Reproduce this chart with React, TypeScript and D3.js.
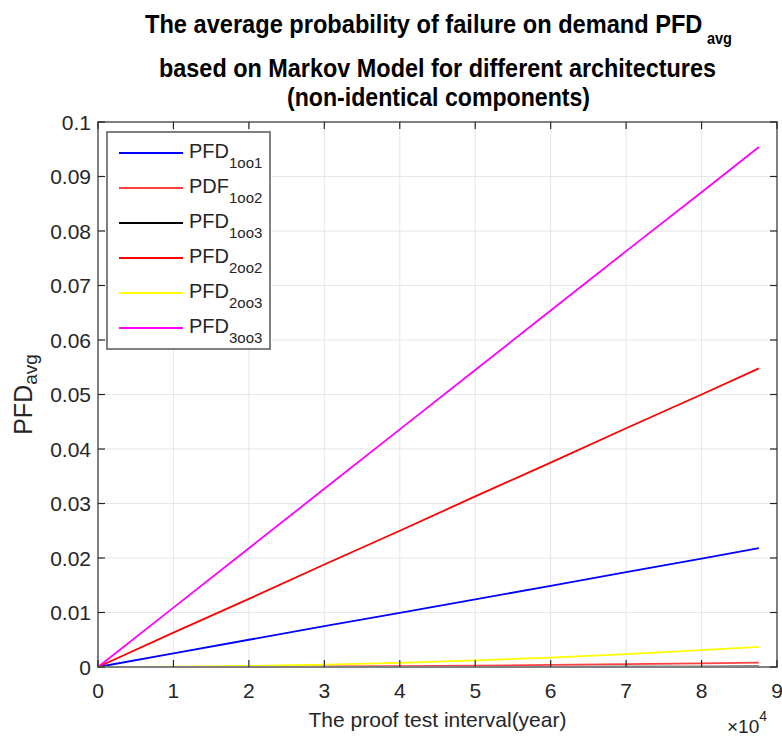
import React from "react";
import * as d3 from "d3";

// proof test interval in hours (axis shows x10^4)
const xValues = [0, 10000, 20000, 30000, 40000, 50000, 60000, 70000, 80000, 87600];

const pfd1oo1 = [0, 0.0025, 0.005, 0.0075, 0.00995, 0.0124, 0.0149, 0.0174, 0.0199, 0.0218];
const pdf1oo2 = [0, 0.00001, 0.00004, 0.00009, 0.00017, 0.00026, 0.00038, 0.00051, 0.00067, 0.0008];
const pfd1oo3 = [0, 0, 0, 0.00001, 0.00001, 0.00002, 0.00004, 0.00006, 0.00008, 0.0001];
const pfd2oo2 = [0, 0.0063, 0.0125, 0.0188, 0.025, 0.0313, 0.0375, 0.0438, 0.05, 0.0548];
const pfd2oo3 = [0, 0.00005, 0.0002, 0.00043, 0.00077, 0.0012, 0.00173, 0.00236, 0.0031, 0.0037];
const pfd3oo3 = [0, 0.0109, 0.0218, 0.0327, 0.0436, 0.0545, 0.0654, 0.0763, 0.0871, 0.0954];

const seriesNames = [
  { main: "PFD", sub: "1oo1" },
  { main: "PDF", sub: "1oo2" },
  { main: "PFD", sub: "1oo3" },
  { main: "PFD", sub: "2oo2" },
  { main: "PFD", sub: "2oo3" },
  { main: "PFD", sub: "3oo3" },
];
const seriesValues = [pfd1oo1, pdf1oo2, pfd1oo3, pfd2oo2, pfd2oo3, pfd3oo3];
const seriesColors = ["#0000ff", "#ff4040", "#000000", "#ff0000", "#ffff00", "#ff00ff"];

const xTicks = [0, 1, 2, 3, 4, 5, 6, 7, 8, 9];
const yTicks = [0, 0.01, 0.02, 0.03, 0.04, 0.05, 0.06, 0.07, 0.08, 0.09, 0.1];

export default function App() {
  const width = 782, height = 738;
  const left = 98, right = 777, top = 122, bottom = 667;

  const x = d3.scaleLinear().domain([0, 9]).range([left, right]);
  const y = d3.scaleLinear().domain([0, 0.1]).range([bottom, top]);

  const line = d3.line<number>()
    .x((_, i) => x(xValues[i] / 10000))
    .y(d => y(d));

  const axisColor = "#808080";
  const textColor = "#262626";
  const font = "Liberation Sans, Arial, sans-serif";
  const titleFont = "'Liberation Sans Narrow', 'Arial Narrow', 'Liberation Sans', sans-serif";

  return (
    <svg width={width} height={height} style={{ position: "absolute", left: 0, top: 0, background: "#fff" }}>
      <rect x={0} y={0} width={width} height={height} fill="#fff" />

      {/* grid */}
      {xTicks.slice(1, -1).map(t => (
        <line key={"gx" + t} x1={x(t)} x2={x(t)} y1={top} y2={bottom} stroke="#e6e6e6" strokeWidth={1} />
      ))}
      {yTicks.slice(1, -1).map(t => (
        <line key={"gy" + t} x1={left} x2={right} y1={y(t)} y2={y(t)} stroke="#e6e6e6" strokeWidth={1} />
      ))}

      {/* series */}
      {seriesValues.map((vals, i) => (
        <path key={"s" + i} d={line(vals) || ""} fill="none" stroke={seriesColors[i]} strokeWidth={1.8} />
      ))}

      {/* axes box */}
      <rect x={left} y={top} width={right - left} height={bottom - top} fill="none" stroke={axisColor} strokeWidth={2} />

      {/* ticks */}
      {xTicks.map(t => (
        <g key={"tx" + t}>
          <line x1={x(t)} x2={x(t)} y1={bottom} y2={bottom - 7} stroke={textColor} strokeWidth={1.2} />
          <line x1={x(t)} x2={x(t)} y1={top} y2={top + 7} stroke={textColor} strokeWidth={1.2} />
          <text x={x(t)} y={698} textAnchor="middle" fontFamily={font} fontSize={21} fill={textColor}>{t}</text>
        </g>
      ))}
      {yTicks.map(t => (
        <g key={"ty" + t}>
          <line x1={left} x2={left + 7} y1={y(t)} y2={y(t)} stroke={textColor} strokeWidth={1.2} />
          <line x1={right} x2={right - 7} y1={y(t)} y2={y(t)} stroke={textColor} strokeWidth={1.2} />
          <text x={91} y={y(t) + 7.5} textAnchor="end" fontFamily={font} fontSize={21} fill={textColor}>{d3.format("~g")(t)}</text>
        </g>
      ))}

      {/* x10^4 */}
      <text x={727} y={733} fontFamily={font} fontSize={19} fill={textColor}>
        ×10<tspan dy={-12} fontSize={14}>4</tspan>
      </text>

      {/* axis labels */}
      <text x={(left + right) / 2} y={727} textAnchor="middle" fontFamily={font} fontSize={21} fill={textColor}>
        The proof test interval(year)
      </text>
      <text transform={`translate(32,${(top + bottom) / 2}) rotate(-90)`} textAnchor="middle" fontFamily={font} fontSize={25} fill={textColor}>
        PFD<tspan dy={5} fontSize={19}>avg</tspan>
      </text>

      {/* title */}
      <text x={145} y={33} fontFamily={titleFont} fontWeight="bold" fontSize={26} fill="#000"
        textLength={587} lengthAdjust="spacingAndGlyphs">
        The average probability of failure on demand PFD<tspan dx={5} dy={11} fontSize={16}>avg</tspan>
      </text>
      <text x={159} y={77} fontFamily={titleFont} fontWeight="bold" fontSize={25} fill="#000"
        textLength={557} lengthAdjust="spacingAndGlyphs">
        based on Markov Model for different architectures
      </text>
      <text x={287} y={106} fontFamily={titleFont} fontWeight="bold" fontSize={25} fill="#000"
        textLength={303} lengthAdjust="spacingAndGlyphs">
        (non-identical components)
      </text>

      {/* legend */}
      <rect x={107} y={132} width={163} height={217} fill="#fff" stroke={axisColor} strokeWidth={2} />
      {seriesNames.map((s, i) => {
        const ly = 153 + i * 35;
        return (
          <g key={"l" + i}>
            <line x1={119} x2={183} y1={ly} y2={ly} stroke={seriesColors[i]} strokeWidth={1.8} />
            <text x={189} y={ly + 5} fontFamily={font} fontSize={20} fill={textColor}>
              {s.main}<tspan dy={10} fontSize={15}>{s.sub}</tspan>
            </text>
          </g>
        );
      })}
    </svg>
  );
}
